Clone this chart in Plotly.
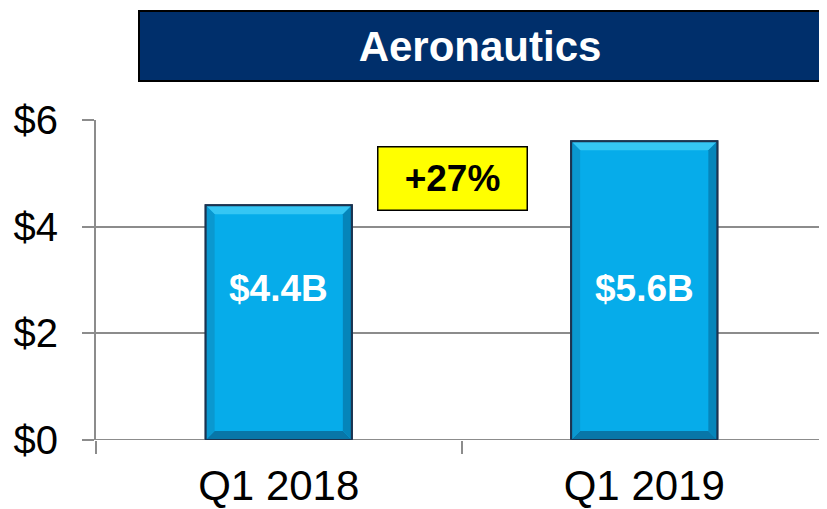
import plotly.graph_objects as go

categories = ["Q1 2018", "Q1 2019"]
values = [4.4, 5.6]
bar_labels = ["$4.4B", "$5.6B"]
y_tickvals = [0, 2, 4, 6]
y_ticktext = ["$0", "$2", "$4", "$6"]
title_text = "Aeronautics"
growth_text = "+27%"

OFF = 8  # default page body margin
W, H = 827 - OFF, 509 - OFF
ML, MR, MT, MB = 96 - OFF, 0, 120 - OFF, 69
plot_w = W - ML - MR
plot_h = H - MT - MB
ymax = 6
bar_w = 0.4

def px_to_paper_x(px):
    return (px - OFF - ML) / plot_w

def px_to_paper_y(py):
    return (MT + plot_h - (py - OFF)) / plot_h

BAR = "#06ACEA"
FONT = "Liberation Sans, Arial"
fig = go.Figure()
fig.add_trace(go.Bar(
    x=list(range(len(categories))), y=values, width=bar_w,
    marker=dict(color=BAR, line=dict(color="#1B3350", width=2)),
    hoverinfo="skip",
))

px_per_x = plot_w / 2.0
px_per_y = plot_h / ymax
bx = 9 / px_per_x
by = 9 / px_per_y
shapes = []
for i, v in enumerate(values):
    x0, x1 = i - bar_w / 2, i + bar_w / 2
    shapes.append(dict(type="path", xref="x", yref="y",
        path=f"M{x0},{v} L{x1},{v} L{x1-bx},{v-by} L{x0+bx},{v-by} Z",
        fillcolor="#35C6F4", line=dict(width=0)))
    shapes.append(dict(type="path", xref="x", yref="y",
        path=f"M{x0},0 L{x1},0 L{x1-bx},{by} L{x0+bx},{by} Z",
        fillcolor="#0876A8", line=dict(width=0)))
    shapes.append(dict(type="path", xref="x", yref="y",
        path=f"M{x1},0 L{x1},{v} L{x1-bx},{v-by} L{x1-bx},{by} Z",
        fillcolor="#0585BA", line=dict(width=0)))
    shapes.append(dict(type="path", xref="x", yref="y",
        path=f"M{x0},0 L{x0},{v} L{x0+bx},{v-by} L{x0+bx},{by} Z",
        fillcolor="#0A98D0", line=dict(width=0)))
    shapes.append(dict(type="rect", xref="x", yref="y", x0=x0, x1=x1, y0=0, y1=v,
        line=dict(color="#1B3350", width=2), fillcolor="rgba(0,0,0,0)"))

annotations = []
for i, lab in enumerate(bar_labels):
    annotations.append(dict(x=i, y=2.85, xref="x", yref="y", text=lab, showarrow=False,
        xanchor="center", yanchor="middle",
        font=dict(family=FONT, size=37, color="white", weight="bold")))

annotations.append(dict(x=px_to_paper_x(480), y=px_to_paper_y(46), xref="paper", yref="paper",
    xanchor="center", yanchor="middle",
    text=title_text, showarrow=False, width=680, height=68, bgcolor="#002F6B",
    bordercolor="#000000", borderwidth=2, borderpad=0,
    font=dict(family=FONT, size=42, color="white", weight="bold")))

annotations.append(dict(x=px_to_paper_x(452.5), y=px_to_paper_y(178.5), xref="paper", yref="paper",
    xanchor="center", yanchor="middle",
    text=growth_text, showarrow=False, width=148, height=62, bgcolor="#FFFF00",
    bordercolor="#000000", borderwidth=1.5, borderpad=0,
    font=dict(family=FONT, size=37, color="black", weight="bold")))

fig.update_layout(
    width=W, height=H,
    margin=dict(l=ML, r=MR, t=MT, b=MB, pad=0, autoexpand=False),
    paper_bgcolor="white", plot_bgcolor="white",
    showlegend=False, bargap=0.6,
    shapes=shapes, annotations=annotations,
    xaxis=dict(tickmode="array", tickvals=list(range(len(categories))), ticktext=categories,
               range=[-0.5, 1.5], showgrid=False, zeroline=False, automargin=False,
               showline=False, ticks="", ticklabelstandoff=17,
               tickfont=dict(family=FONT, size=42, color="black")),
    yaxis=dict(range=[0, ymax], tickvals=y_tickvals, ticktext=y_ticktext, automargin=False,
               showgrid=True, gridcolor="#8C8C8C", gridwidth=2,
               zeroline=False, showline=True, linecolor="#8C8C8C", linewidth=2,
               ticks="outside", ticklen=12, tickcolor="#8C8C8C", tickwidth=2,
               ticklabelstandoff=16,
               tickfont=dict(family=FONT, size=40, color="black")),
)

fig.add_trace(go.Scatter(x=[-0.5, 0.5, 1.5], y=[0, 0, 0], xaxis="x2", mode="lines",
                         line=dict(color="#8C8C8C", width=2), hoverinfo="skip"))
fig.update_layout(xaxis2=dict(overlaying="x", range=[-0.5, 1.5], tickvals=[-0.5, 0.5],
                              ticks="outside", ticklen=13, tickcolor="#8C8C8C", tickwidth=2,
                              showticklabels=False, showgrid=False, zeroline=False,
                              showline=False, side="bottom", automargin=False))

fig.write_html("out.html")
